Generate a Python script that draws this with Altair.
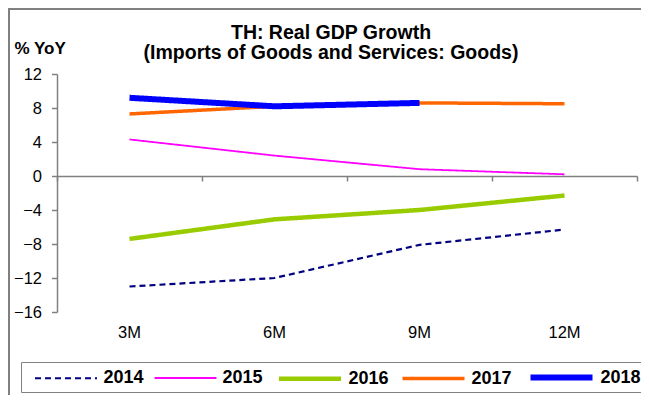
import altair as alt
import pandas as pd

months = ["3M", "6M", "9M", "12M"]
years = ["2014", "2015", "2016", "2017", "2018"]
v2014 = [-13.0, -12.0, -8.1, -6.3]
v2015 = [4.3, 2.4, 0.8, 0.2]
v2016 = [-7.4, -5.1, -4.0, -2.3]
v2017 = [7.3, 8.2, 8.6, 8.5]
v2018 = [9.2, 8.2, 8.6]
y_ticks = [-16, -12, -8, -4, 0, 4, 8, 12]
title_lines = ["TH: Real GDP Growth", "(Imports of Goods and Services: Goods)"]
y_title = "% YoY"

colors = ["#000080", "#FF00FF", "#99CC00", "#FF6600", "#0000FF"]
widths = [2.2, 1.8, 4.5, 3.5, 6.0]
dashes = [[6, 4], [1, 0], [1, 0], [1, 0], [1, 0]]

rows = []
for yr, vals in zip(years, [v2014, v2015, v2016, v2017, v2018]):
    for m, v in zip(months, vals):
        rows.append({"month": m, "year": yr, "value": v})
df = pd.DataFrame(rows)

FONT = "Liberation Sans"
GRAY = "#808080"

xscale = alt.Scale(type="band", domain=months, paddingInner=0, paddingOuter=0)
yscale = alt.Scale(domain=[-16, 12], nice=False, zero=False)

y_axis = alt.Axis(orient="left", values=y_ticks, domainColor=GRAY, domainWidth=1.5,
                  tickColor=GRAY, tickSize=5.5, tickWidth=1.5, labelPadding=10,
                  labelFontSize=16.5, labelFont=FONT, labelColor="black", grid=False,
                  title=y_title, titleAngle=0, titleX=-43, titleY=-20.7, titleAlign="left",
                  titleBaseline="alphabetic", titleFont=FONT, titleFontSize=17,
                  titleFontWeight="bold", titleColor="black")

# symbol: custom path, r = sqrt(size)/2 = 10 -> line from 0 to ~62 px from entry start
legend = alt.Legend(orient="none", legendX=-36, legendY=288, direction="horizontal",
                    title=" ", titleOrient="left", titleFontSize=1, titlePadding=10,
                    symbolType="M-1,0H5.2", symbolSize=400, symbolFillColor="transparent",
                    labelFont=FONT, labelFontWeight="bold", labelFontSize=18,
                    labelColor="black", labelOffset=47, columnPadding=6, padding=2.5,
                    strokeColor=GRAY, fillColor="white", symbolLimit=0)

lines = alt.Chart(df).mark_line().encode(
    x=alt.X("month:N", sort=months, scale=xscale,
            axis=alt.Axis(orient="bottom", domain=False, ticks=False, labelAngle=0,
                          labelFontSize=16.5, labelFont=FONT, labelColor="black",
                          labelPadding=12, title=None, grid=False)),
    y=alt.Y("value:Q", scale=yscale, axis=y_axis),
    color=alt.Color("year:N", scale=alt.Scale(domain=years, range=colors), legend=legend),
    strokeDash=alt.StrokeDash("year:N", scale=alt.Scale(domain=years, range=dashes), legend=legend),
    strokeWidth=alt.StrokeWidth("year:O", scale=alt.Scale(type="ordinal", domain=years, range=widths), legend=legend),
    order=alt.Order("year:N"),
)

zero_axis = alt.Chart(df).mark_point(opacity=0).encode(
    x=alt.X("month:N", sort=months, scale=xscale,
            axis=alt.Axis(orient="bottom", offset=-136, labels=False, ticks=True,
                          tickBand="extent", tickSize=5, tickWidth=1.5, tickColor=GRAY,
                          domainColor=GRAY, domainWidth=1.5, title=None, grid=False)),
    y=alt.Y("value:Q", scale=yscale, axis=y_axis),
)

one = alt.Data(values=[{"k": 1}])

frame = alt.Chart(one).mark_rect(fillOpacity=0, stroke=GRAY, strokeWidth=2).encode(
    x=alt.value(-48), y=alt.value(-65), x2=alt.value(700), y2=alt.value(500)
)

title = alt.Chart(one).mark_text(text=title_lines, font=FONT, fontSize=19.5,
                                 fontWeight="bold", align="center", baseline="alphabetic",
                                 lineHeight=20, color="black").encode(
    x=alt.value(274), y=alt.value(-35.5)
)

chart = alt.layer(frame, zero_axis, lines, title).resolve_axis(x="independent").properties(
    width=580, height=238, autosize="none",
    padding={"left": 49, "top": 66, "right": 4, "bottom": 83},
    background="white",
).configure_view(stroke=None)

chart.save("out.html", embed_options={"renderer": "svg", "actions": False})
